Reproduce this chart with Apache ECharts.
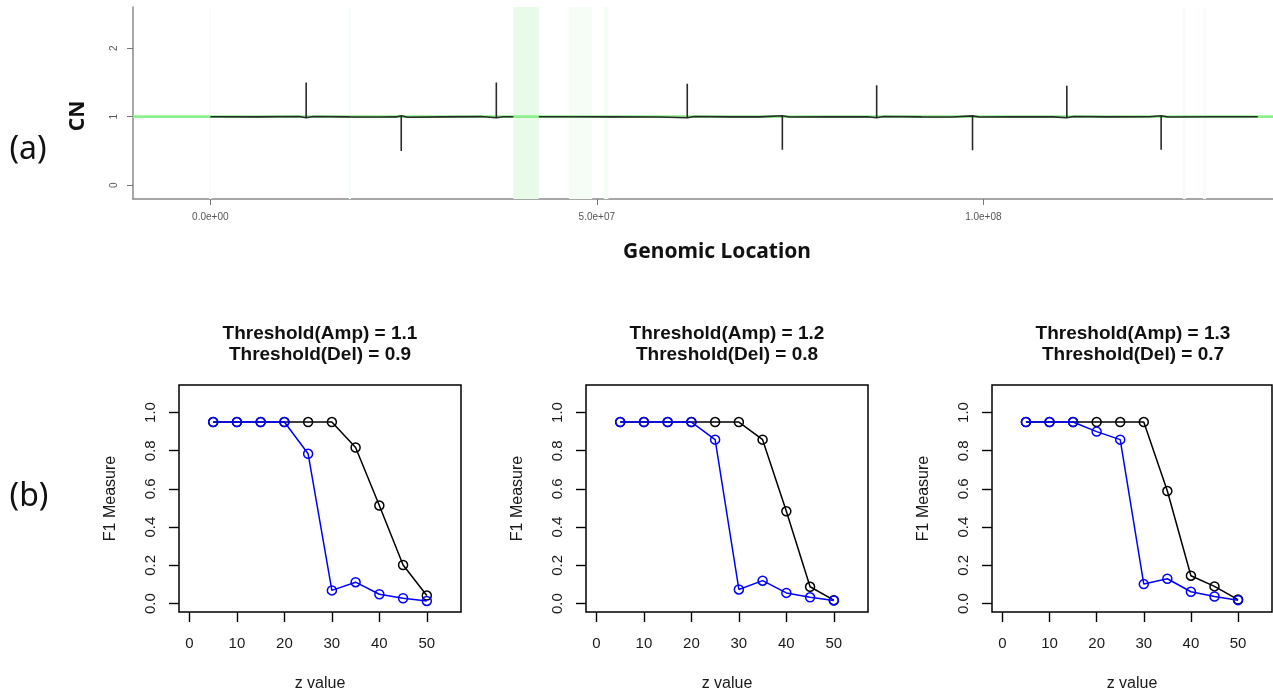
<!DOCTYPE html>
<html>
<head>
<meta charset="utf-8">
<title>Copy number profile and F1 measure</title>
<script src="https://cdn.jsdelivr.net/npm/echarts@6/dist/echarts.min.js"></script>
<style>
  html, body { margin: 0; padding: 0; background: #fff; }
  #chart { width: 1273px; height: 696px; }
</style>
</head>
<body>
<div id="chart"></div>
<script>
// ---- (a) copy-number profile (positions in Mb) ----
const basePos = [0, 6, 11.5, 12.4, 13.3, 18, 22, 24.0, 24.7, 25.5, 30, 35, 37.0, 37.9, 39.2,
                 null,
                 42.5, 47, 52, 58, 61.7, 62.6, 67, 71, 74.0, 74.9, 80, 85, 86.2, 87.1, 92, 96,
                 98.6, 99.5, 104, 109, 110.8, 111.7, 116, 121.5, 123.0, 123.9, 130, 135.5];
const baseVal = [1.0, 0.998, 1.003, 0.985, 1.003, 0.998, 0.996, 0.997, 1.015, 0.992, 0.997, 1.002, 0.985, 1.0, 1.0,
                 null,
                 1.0, 1.0, 0.998, 0.995, 0.985, 1.004, 0.997, 0.997, 1.015, 0.995, 0.998, 1.0, 0.985, 1.004, 0.998, 0.996,
                 1.012, 0.996, 1.0, 0.998, 0.985, 1.003, 0.998, 1.0, 1.015, 0.996, 1.0, 1.0];
const ampPos  = [12.4, 37.0, 61.7, 86.2, 110.8];
const ampPeak = [1.5, 1.5, 1.48, 1.46, 1.45];
const delPos  = [24.7, 74.0, 98.6, 123.0];
const delPeak = [0.5, 0.52, 0.51, 0.52];
const centromere = [[39.2, 42.5]];
const faintBands = [[-0.15, 0.15], [17.9, 18.2], [46.4, 47.7], [47.7, 49.0], [49.0, 49.4], [50.9, 51.5], [125.8, 126.2], [128.4, 128.8]];
const genomeTicks = [0, 5e7, 1e8];
const cnTicks = [0, 1, 2];

// ---- (b) F1 measure against z value ----
const zValues = [5, 10, 15, 20, 25, 30, 35, 40, 45, 50];
const panelTitles = [
  ['Threshold(Amp) = 1.1', 'Threshold(Del) = 0.9'],
  ['Threshold(Amp) = 1.2', 'Threshold(Del) = 0.8'],
  ['Threshold(Amp) = 1.3', 'Threshold(Del) = 0.7']
];
const f1Black = [
  [0.95, 0.95, 0.95, 0.95, 0.95, 0.95, 0.817, 0.513, 0.202, 0.042],
  [0.95, 0.95, 0.95, 0.95, 0.95, 0.95, 0.858, 0.483, 0.088, 0.018],
  [0.95, 0.95, 0.95, 0.95, 0.95, 0.95, 0.589, 0.146, 0.090, 0.021]
];
const f1Blue = [
  [0.95, 0.95, 0.95, 0.95, 0.784, 0.069, 0.112, 0.049, 0.028, 0.014],
  [0.95, 0.95, 0.95, 0.95, 0.858, 0.074, 0.120, 0.056, 0.033, 0.016],
  [0.95, 0.95, 0.95, 0.90, 0.858, 0.102, 0.130, 0.062, 0.037, 0.018]
];
const zTicks = [0, 10, 20, 30, 40, 50];
const f1Ticks = [0, 0.2, 0.4, 0.6, 0.8, 1.0];

// Build the CN line: baseline knots with vertical spikes inserted at their positions.
const MB = 1e6;
const spikeAt = {};
ampPos.forEach((p, i) => { spikeAt[p] = ampPeak[i]; });
delPos.forEach((p, i) => { spikeAt[p] = delPeak[i]; });
const cnLine = [];
basePos.forEach((p, i) => {
  if (p === null) { cnLine.push([null, null]); return; }
  const v = baseVal[i];
  cnLine.push([p * MB, v]);
  if (spikeAt[p] !== undefined) {
    cnLine.push([p * MB, spikeAt[p]]);
    cnLine.push([p * MB, v]);
  }
});

function sci(v) {
  const parts = v.toExponential(1).split('e');
  const e = parseInt(parts[1], 10);
  const sign = e < 0 ? '-' : '+';
  const mag = String(Math.abs(e)).padStart(2, '0');
  return parts[0] + 'e' + sign + mag;
}

const chart = echarts.init(document.getElementById('chart'), null, { renderer: 'canvas' });

const grids = [{ left: 133, top: 7, width: 1140, height: 192, show: false }];
const xAxes = [{
  gridIndex: 0, type: 'value', min: -1.0e7, max: 1.3747e8,
  axisLine: { show: true, onZero: false, lineStyle: { color: '#8a8a8a', width: 1.5 } },
  axisTick: { show: true, inside: false, length: 6, customValues: genomeTicks, lineStyle: { color: '#777' } },
  axisLabel: { customValues: genomeTicks, formatter: sci, fontFamily: 'Liberation Sans', fontSize: 10, color: '#555', margin: 13 },
  splitLine: { show: false }
}];
const yAxes = [{
  gridIndex: 0, type: 'value', min: -0.2, max: 2.6,
  axisLine: { show: true, onZero: false, lineStyle: { color: '#8a8a8a', width: 1.5 } },
  axisTick: { show: true, inside: false, length: 6, customValues: cnTicks, lineStyle: { color: '#777' } },
  axisLabel: { customValues: cnTicks, rotate: 90, fontFamily: 'Liberation Sans', fontSize: 10, color: '#555', margin: 14 },
  splitLine: { show: false }
}];

const bandAreas = centromere.map(b => [
  { xAxis: b[0] * MB, itemStyle: { color: '#e8fbe8' } }, { xAxis: b[1] * MB }
]).concat(faintBands.map(b => [
  { xAxis: b[0] * MB, itemStyle: { color: '#f6fdf6' } }, { xAxis: b[1] * MB }
]));

const series = [
  {
    type: 'line', xAxisIndex: 0, yAxisIndex: 0, silent: true,
    data: [[-1.0e7, 1], [1.3747e8, 1]],
    showSymbol: false, lineStyle: { color: '#8cf08c', width: 2.8 },
    markArea: { silent: true, data: bandAreas },
    z: 1
  },
  {
    type: 'line', xAxisIndex: 0, yAxisIndex: 0, silent: true,
    data: cnLine, connectNulls: false,
    showSymbol: false, lineStyle: { color: '#2a2a2a', width: 1.6 },
    z: 3
  }
];

const panelLeft = [179, 586, 992];
const panelWidth = [282, 282, 280];
const graphics = [];

panelLeft.forEach((left, k) => {
  const gi = k + 1;
  grids.push({ left: left, top: 385, width: panelWidth[k], height: 227, show: true,
               borderColor: '#000', borderWidth: 1.5, backgroundColor: 'transparent' });
  xAxes.push({
    gridIndex: gi, type: 'value', min: -2.2, max: 57.2,
    name: 'z value', nameLocation: 'middle', nameGap: 64,
    nameTextStyle: { fontFamily: 'Liberation Sans', fontSize: 16, color: '#1a1a1a' },
    axisLine: { show: false, onZero: false },
    axisTick: { show: true, inside: false, length: 10, customValues: zTicks, lineStyle: { color: '#000', width: 1.4 } },
    axisLabel: { customValues: zTicks, fontFamily: 'Liberation Sans', fontSize: 15, color: '#1a1a1a', margin: 24 },
    splitLine: { show: false }
  });
  yAxes.push({
    gridIndex: gi, type: 'value', min: -0.044, max: 1.144,
    name: 'F1 Measure', nameLocation: 'middle', nameGap: 60,
    nameTextStyle: { fontFamily: 'Liberation Sans', fontSize: 16, color: '#1a1a1a' },
    axisLine: { show: false, onZero: false },
    axisTick: { show: true, inside: false, length: 10, customValues: f1Ticks, lineStyle: { color: '#000', width: 1.4 } },
    axisLabel: { customValues: f1Ticks, rotate: 90, formatter: v => v.toFixed(1),
                 fontFamily: 'Liberation Sans', fontSize: 15, color: '#1a1a1a', margin: 21 },
    splitLine: { show: false }
  });
  [[f1Black[k], '#000000', 4], [f1Blue[k], '#0000ff', 5]].forEach(([vals, col, z]) => {
    series.push({
      type: 'line', xAxisIndex: gi, yAxisIndex: gi, silent: true,
      data: zValues.map((zv, i) => [zv, vals[i]]),
      symbol: 'circle', symbolSize: 9, showSymbol: true,
      itemStyle: { color: 'rgba(0,0,0,0)', borderColor: col, borderWidth: 1.5 },
      lineStyle: { color: col, width: 1.5 },
      z: z
    });
  });
  const cx = left + panelWidth[k] / 2 + (k === 2 ? 1 : 0);
  panelTitles[k].forEach((t, j) => {
    graphics.push({
      type: 'text', x: cx, y: 334 + j * 21, silent: true,
      style: { text: t, textAlign: 'center', textVerticalAlign: 'middle',
               font: 'bold 19px "Liberation Sans"', fill: '#111' }
    });
  });
});

graphics.push(
  { type: 'text', x: 28, y: 150, silent: true,
    style: { text: '(a)', textAlign: 'center', textVerticalAlign: 'middle', font: '32px "Noto Sans"', fill: '#111' } },
  { type: 'text', x: 29, y: 497, silent: true,
    style: { text: '(b)', textAlign: 'center', textVerticalAlign: 'middle', font: '32px "Noto Sans"', fill: '#111' } },
  { type: 'text', x: 78, y: 116, rotation: Math.PI / 2, silent: true,
    style: { text: 'CN', textAlign: 'center', textVerticalAlign: 'middle', font: 'bold 21px "Noto Sans"', fill: '#111' } },
  { type: 'text', x: 717, y: 252, silent: true,
    style: { text: 'Genomic Location', textAlign: 'center', textVerticalAlign: 'middle', font: 'bold 21px "Noto Sans"', fill: '#111' } }
);

chart.setOption({
  animation: false,
  backgroundColor: '#ffffff',
  grid: grids,
  xAxis: xAxes,
  yAxis: yAxes,
  series: series,
  graphic: graphics
});
</script>
</body>
</html>
